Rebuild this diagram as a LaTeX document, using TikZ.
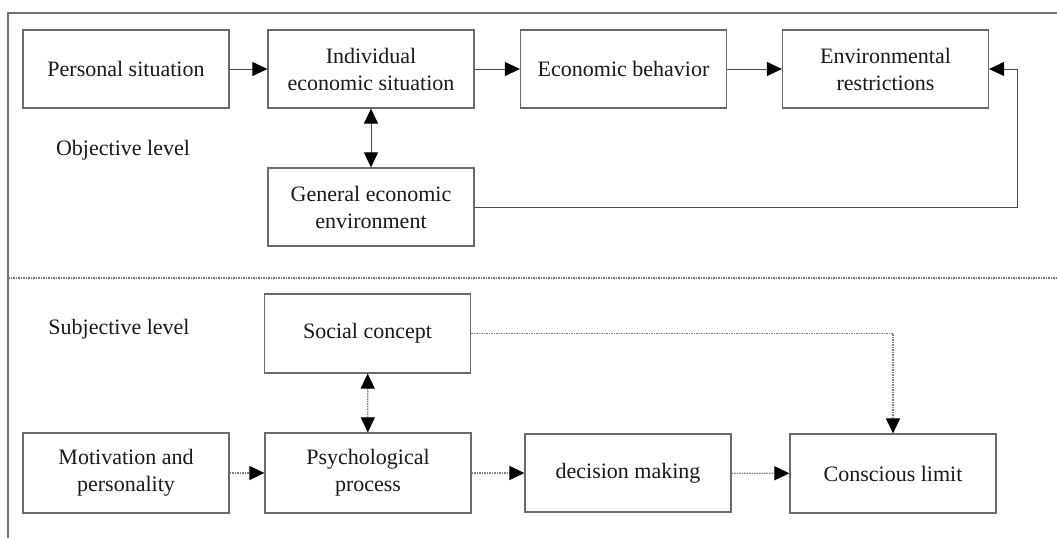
\documentclass[tikz,border=0pt]{standalone}
\usepackage{fontspec}
\setmainfont{Liberation Serif}
\usetikzlibrary{arrows.meta}
\begin{document}
\begin{tikzpicture}[x=1pt,y=-1pt,
  tip/.tip={Triangle[length=15pt,width=14pt,color=black]},
  box/.style={draw=black!58, line width=1.2pt, minimum width=206pt, minimum height=78pt,
    inner sep=0pt, align=center, text=black!90, font=\fontsize{22}{27}\selectfont},
  lbl/.style={text=black!90, font=\fontsize{22}{27}\selectfont, inner sep=0pt},
  link/.style={line width=1pt, black!70, -tip},
  twoway/.style={line width=1pt, black!70, tip-tip},
  dots/.style={dash pattern=on 1.5pt off 1pt, line width=1.1pt, black!50},
  frame/.style={draw=black!55, line width=1.2pt}]
\useasboundingbox (0,0) rectangle (1057,538);
\fill[white] (0,0) rectangle (1057,538);

% outer frame and level separator
\draw[frame] (8,538) -- (8,13) -- (1057,13);
\draw[dots, black!55] (8,278) coordinate (sepL) -- (1057,278) coordinate (sepR);

% objective level
\node[box] (ps)  at (126,69)   {Personal situation};
\node[box] (ies) at (371,69)   {Individual\\economic situation};
\node[box] (eb)  at (623.5,69) {Economic behavior};
\node[box] (er)  at (885.5,69) {Environmental\\restrictions};
\node[box] (gee) at (371,207)  {General economic\\environment};
\node[lbl] (obj) at (123,150)  {Objective level};

\draw[link] (ps) -- (ies);
\draw[link] (ies) -- (eb);
\draw[link] (eb) -- (er);
\draw[twoway] (ies) -- (gee);
\draw[link] (gee.east) -- (1017,207) -- (1017,69) -- (er.east);

% subjective level
\node[box, minimum height=79pt] (sc) at (367.5,333.5) {Social concept};
\node[lbl] (subj) at (119,329) {Subjective level};
\node[box, minimum height=80pt] (mp) at (126,473) {Motivation and\\personality};
\node[box, minimum height=80pt] (pp) at (368,473) {Psychological\\process};
\node[box] (dm) at (628,473) {decision making};
\node[box, minimum height=79pt] (cl) at (893,473.5) {Conscious limit};

\draw[dots, -tip] (mp) -- (pp);
\draw[dots, -tip] (pp) -- (dm);
\draw[dots, -tip] (dm) -- (cl);
\draw[dots, tip-tip] (sc) -- (pp);
\draw[dots, -tip] (sc.east) -- (893,333.5) -- (cl.north);
\end{tikzpicture}
\end{document}
